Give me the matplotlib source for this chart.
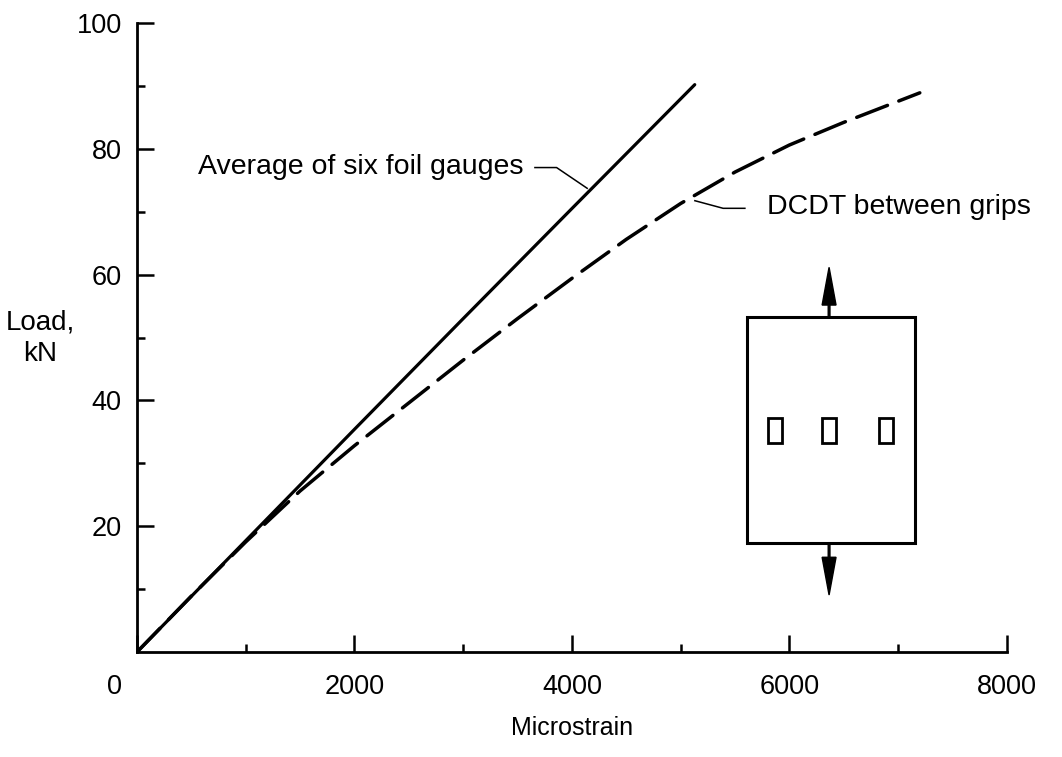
import matplotlib
matplotlib.use("Agg")
import matplotlib.pyplot as plt
from matplotlib.patches import Rectangle, FancyArrow
from matplotlib.transforms import ScaledTranslation

plt.rcParams["font.family"] = ["Liberation Sans", "DejaVu Sans"]

# average of six foil gauges (solid)
strain_foil = [0, 1000, 2000, 3000, 4000, 5130]
load_foil = [0, 17.7, 35.4, 53.0, 70.5, 90.2]

# DCDT between grips (dashed)
strain_dcdt = [0, 500, 1000, 1500, 2000, 2500, 3000, 3500, 4000, 4500,
               5000, 5500, 6000, 6500, 7200]
load_dcdt = [0, 8.9, 17.5, 25.6, 32.8, 39.6, 46.4, 53.0, 59.4, 65.6,
             71.3, 76.3, 80.6, 84.2, 88.9]

x_major = [0, 2000, 4000, 6000, 8000]
x_minor = [1000, 3000, 5000, 7000]
y_major = [20, 40, 60, 80, 100]
y_minor = [10, 30, 50, 70, 90]

fig = plt.figure(figsize=(10.62, 7.57), dpi=100)
ax = fig.add_axes([0.129, 0.1387, 0.819, 0.8309])

ax.plot(strain_foil, load_foil, color="black", lw=2.3, solid_capstyle="round")
ax.plot(strain_dcdt, load_dcdt, color="black", lw=2.5, dashes=(9.5, 3.5),
        dash_capstyle="round")

ax.set_xlim(0, 8000)
ax.set_ylim(0, 100)
ax.spines["top"].set_visible(False)
ax.spines["right"].set_visible(False)
for s in ("left", "bottom"):
    ax.spines[s].set_linewidth(2.0)

ax.set_xticks(x_major)
ax.set_xticks(x_minor, minor=True)
ax.set_yticks(y_major)
ax.set_yticks(y_minor, minor=True)
ax.tick_params(which="major", direction="in", length=12, width=1.8,
               labelsize=19.5)
ax.tick_params(which="minor", direction="in", length=6, width=1.8)
ax.tick_params(axis="x", which="major", pad=16)
ax.tick_params(axis="y", which="major", pad=11)

# the "0" label sits left of the origin in the original
fig.canvas.draw()
lbl0 = ax.get_xticklabels()[0]
lbl0.set_transform(lbl0.get_transform()
                   + ScaledTranslation(-0.22, 0, fig.dpi_scale_trans))

ax.set_xlabel("Microstrain", fontsize=18, labelpad=11)
fig.text(0.0377, 0.5535, "Load,\nkN", ha="center", va="center",
         fontsize=20, multialignment="center", linespacing=1.25)

# curve labels with leader lines
ax.text(0.0701, 0.7711, "Average of six foil gauges", transform=ax.transAxes,
        ha="left", va="center", fontsize=20.5)
ax.plot([0.4575, 0.4824, 0.5176], [0.7702, 0.7702, 0.7372],
        transform=ax.transAxes, color="black", lw=1.1)
ax.text(0.7241, 0.7075, "DCDT between grips", transform=ax.transAxes,
        ha="left", va="center", fontsize=20.5)
ax.plot([0.6414, 0.6739, 0.6989], [0.7175, 0.7054, 0.7054],
        transform=ax.transAxes, color="black", lw=1.1)

# specimen sketch
ax.add_patch(Rectangle((0.7008, 0.1738), 0.1935, 0.3593,
                       transform=ax.transAxes, fill=False, lw=2.2,
                       edgecolor="black"))
for gx in (0.7256, 0.7876, 0.8529):
    ax.add_patch(Rectangle((gx, 0.333), 0.0165, 0.039,
                           transform=ax.transAxes, fill=False, lw=2.0,
                           edgecolor="black"))
ax.add_patch(FancyArrow(0.7957, 0.5331, 0, 0.0785, width=0.002,
                        head_width=0.016, head_length=0.06,
                        length_includes_head=True, transform=ax.transAxes,
                        color="black"))
ax.add_patch(FancyArrow(0.7957, 0.1738, 0, -0.0832, width=0.002,
                        head_width=0.016, head_length=0.06,
                        length_includes_head=True, transform=ax.transAxes,
                        color="black"))

fig.savefig("out.png", dpi=100)
